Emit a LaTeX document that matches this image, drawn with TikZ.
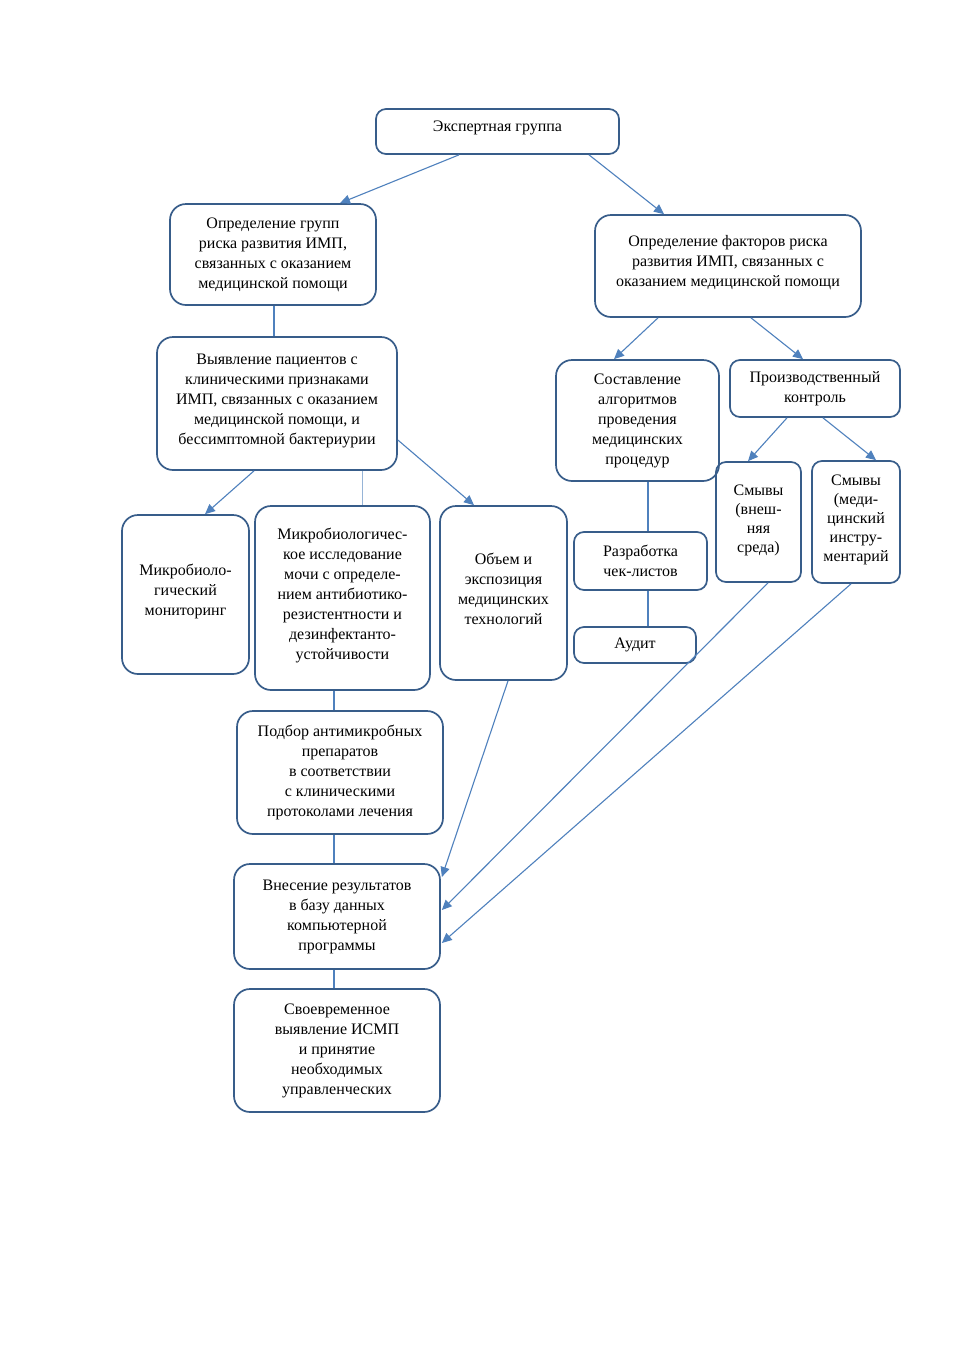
\documentclass[tikz,border=0pt]{standalone}
\usepackage{fontspec}
\setmainfont{Liberation Serif}
\usetikzlibrary{arrows.meta}
\definecolor{boxc}{RGB}{56,93,138}
\definecolor{linec}{RGB}{79,129,189}
\definecolor{thinc}{RGB}{150,180,215}
\newcommand{\upby}[1]{\rule[-#1]{0pt}{#1}}
\begin{document}
\begin{tikzpicture}[x=1pt,y=-1pt,
  box/.style={draw=boxc,line width=1.7pt,rounded corners=16pt,align=center,inner sep=2pt,
    font=\fontsize{16}{20}\selectfont},
  sbox/.style={box,rounded corners=10pt},
  nbox/.style={sbox,font=\fontsize{16}{19}\selectfont},
  arr/.style={draw=linec,line width=1.1pt,-{Triangle[length=10pt,width=9pt]}},
  ln/.style={draw=linec,line width=1.3pt},
  thinln/.style={draw=thinc,line width=0.8pt}]
\useasboundingbox (0,0) rectangle (954,1350);
\fill[white] (0,0) rectangle (954,1350);

\node[sbox,minimum width=243pt,minimum height=45pt] (ex) at (497.5,131.5) {Экспертная группа\upby{10pt}};
\node[box,minimum width=206pt,minimum height=101pt] (grp) at (273,254.5) {Определение групп\\риска развития ИМП,\\связанных с оказанием\\медицинской помощи};
\node[box,minimum width=266pt,minimum height=102pt] (fac) at (728,266) {Определение факторов риска\\развития ИМП, связанных с\\оказанием медицинской помощи\upby{10pt}};
\node[box,minimum width=240pt,minimum height=133pt] (vyy) at (277,403.5) {Выявление пациентов с\\клиническими признаками\\ИМП, связанных с оказанием\\медицинской помощи, и\\бессимптомной бактериурии\upby{9pt}};
\node[box,minimum width=163pt,minimum height=121pt] (sost) at (637.5,420.5) {Составление\\алгоритмов\\проведения\\медицинских\\процедур};
\node[sbox,minimum width=170pt,minimum height=57pt] (proi) at (815,388.5) {Производственный\\контроль};
\node[nbox,minimum width=85pt,minimum height=120pt] (smv1) at (758.5,522) {Смывы\\(внеш-\\няя\\среда)\upby{7pt}};
\node[nbox,minimum width=88pt,minimum height=122pt] (smv2) at (856,522) {Смывы\\(меди-\\цинский\\инстру-\\ментарий\upby{8pt}};
\node[box,minimum width=127pt,minimum height=159pt] (mon) at (185.5,594.5) {Микробиоло-\\гический\\мониторинг\upby{10pt}};
\node[box,minimum width=175pt,minimum height=184pt] (mik) at (342.5,598) {Микробиологичес-\\кое исследование\\мочи с определе-\\нием антибиотико-\\резистентности и\\дезинфектанто-\\устойчивости\upby{9pt}};
\node[box,minimum width=127pt,minimum height=174pt] (obm) at (503.5,593) {Объем и\\экспозиция\\медицинских\\технологий\upby{9pt}};
\node[sbox,minimum width=133pt,minimum height=58pt] (razr) at (640.5,561) {Разработка\\чек-листов};
\node[sbox,minimum width=122pt,minimum height=36pt] (aud) at (635,645) {Аудит};
\node[box,minimum width=206pt,minimum height=123pt] (podb) at (340,772.5) {Подбор антимикробных\\препаратов\\в соответствии\\с клиническими\\протоколами лечения};
\node[box,minimum width=206pt,minimum height=105pt] (vnes) at (337,916.5) {Внесение результатов\\в базу данных\\компьютерной\\программы};
\node[box,minimum width=206pt,minimum height=123pt] (svoe) at (337,1050.5) {Своевременное\\выявление ИСМП\\и принятие\\необходимых\\управленческих};

\draw[arr] ([xshift=-38.5pt]ex.south) -- ([xshift=67pt]grp.north);
\draw[arr] ([xshift=91.5pt]ex.south) -- ([xshift=-64pt]fac.north);
\draw[ln] ([xshift=1pt]grp.south) -- ([xshift=1pt]grp.south |- vyy.north);
\draw[arr] ([xshift=-23pt]vyy.south) -- ([xshift=19.5pt]mon.north);
\draw[thinln] ([xshift=85pt]vyy.south) -- ([xshift=85pt]vyy.south |- mik.north);
\draw[arr] ([yshift=-36.5pt]vyy.east) -- ([xshift=-29.5pt]obm.north);
\draw[arr] ([xshift=-70pt]fac.south) -- ([xshift=-23.5pt]sost.north);
\draw[arr] ([xshift=23pt]fac.south) -- ([xshift=-12pt]proi.north);
\draw[arr] ([xshift=-28pt]proi.south) -- ([xshift=-10.5pt]smv1.north);
\draw[arr] ([xshift=8pt]proi.south) -- ([xshift=20pt]smv2.north);
\draw[ln] ([xshift=10.5pt]sost.south) -- ([xshift=10.5pt]sost.south |- razr.north);
\draw[ln] ([xshift=7.5pt]razr.south) -- ([xshift=7.5pt]razr.south |- aud.north);
\draw[ln] ([xshift=-8.5pt]mik.south) -- ([xshift=-8.5pt]mik.south |- podb.north);
\draw[ln] ([xshift=-6pt]podb.south) -- ([xshift=-6pt]podb.south |- vnes.north);
\draw[ln] ([xshift=-3pt]vnes.south) -- ([xshift=-3pt]vnes.south |- svoe.north);
\draw[arr] ([xshift=4.5pt]obm.south) -- ([yshift=39.5pt,xshift=1pt]vnes.east);
\draw[arr] ([xshift=9.5pt]smv1.south) -- ([yshift=6.5pt,xshift=1pt]vnes.east);
\draw[arr] ([xshift=-5pt]smv2.south) -- ([yshift=-26.5pt,xshift=1pt]vnes.east);
\end{tikzpicture}
\end{document}
